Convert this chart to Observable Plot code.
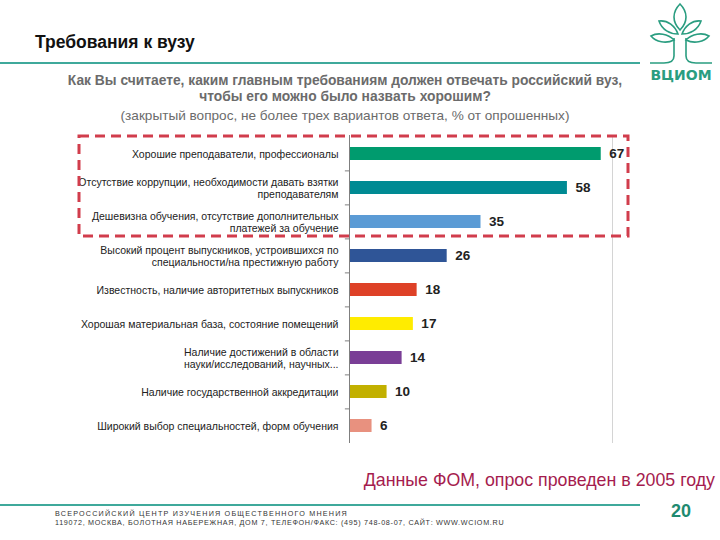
<!DOCTYPE html>
<html>
<head>
<meta charset="utf-8">
<script src="https://cdn.jsdelivr.net/npm/d3@7"></script>
<script src="https://cdn.jsdelivr.net/npm/@observablehq/plot@0.6"></script>
<style>
  html, body { margin: 0; padding: 0; background: #fff; }
  #page { position: relative; width: 720px; height: 540px; overflow: hidden; font-family: "Liberation Sans", Arial, sans-serif; }
  .abs { position: absolute; white-space: nowrap; }
  #title { left: 35px; top: 32px; font-size: 17.5px; font-weight: bold; color: #111; }
  #q { left: 40px; width: 610px; top: 73px; text-align: center; font-size: 13.8px; font-weight: bold; color: #6b6b6b; line-height: 16px; white-space: normal; }
  #sub { left: 40px; width: 610px; top: 108px; text-align: center; font-size: 13.6px; color: #6b6b6b; }
  #chart { position: absolute; left: 0; top: 130px; }
  #caption { right: 5px; top: 470px; font-size: 17.8px; color: #a51c4e; }
  #pnum { left: 671px; top: 501px; font-size: 18px; font-weight: bold; color: #1f8a70; }
  #foot { left: 55px; top: 510px; font-size: 7.2px; color: #333; line-height: 8.5px; letter-spacing: 1.2px; }
  #overlay { position: absolute; left: 0; top: 0; pointer-events: none; }
</style>
</head>
<body>
<div id="page">
  <div id="title" class="abs">Требования к вузу</div>
  <div id="q" class="abs">Как Вы считаете, каким главным требованиям должен отвечать российский вуз,<br>чтобы его можно было назвать хорошим?</div>
  <div id="sub" class="abs">(закрытый вопрос, не более трех вариантов ответа, % от опрошенных)</div>
  <div id="chart"></div>
  <div id="caption" class="abs">Данные ФОМ, опрос проведен в 2005 году</div>
  <div id="pnum" class="abs">20</div>
  <div id="foot" class="abs">ВСЕРОССИЙСКИЙ ЦЕНТР ИЗУЧЕНИЯ ОБЩЕСТВЕННОГО МНЕНИЯ<br><span style="letter-spacing:0.7px">119072, МОСКВА, БОЛОТНАЯ НАБЕРЕЖНАЯ, ДОМ 7, ТЕЛЕФОН/ФАКС: (495) 748-08-07, САЙТ: WWW.WCIOM.RU</span></div>
  <svg id="overlay" width="720" height="540">
    <line x1="0" y1="63" x2="640" y2="63" stroke="#3fa99b" stroke-width="2"/>
    <line x1="0" y1="505" x2="640" y2="505" stroke="#3fa99b" stroke-width="2"/>
    <rect x="79" y="136" width="549" height="100" fill="none" stroke="#d13d4c" stroke-width="3" stroke-dasharray="10 6"/>
    <g fill="none" stroke="#2a9d80" stroke-width="1.6">
      <path d="M680,30 C672,22 672,12 680,4 C688,12 688,22 680,30 Z"/>
      <path d="M678,34 C670,34 662,30 659,21 C668,20 675,26 678,34 Z"/>
      <path d="M682,34 C690,34 698,30 701,21 C692,20 685,26 682,34 Z"/>
      <path d="M674,40 C666,44 656,42 651,36 C658,32 668,34 674,40 Z"/>
      <path d="M686,40 C694,44 704,42 709,36 C702,32 692,34 686,40 Z"/>
      <path d="M674,38 L674,56 C674,61 670,63 664,63 L650,63"/>
      <path d="M686,38 L686,56 C686,61 690,63 696,63 L712,63"/>
    </g>
    <text x="681" y="80" text-anchor="middle" font-family="DejaVu Sans, sans-serif" font-size="14" font-weight="bold" fill="#2a9d80">ВЦИОМ</text>
  </svg>
</div>
<script>
const categories = [
  "Хорошие преподаватели, профессионалы",
  "Отсутствие коррупции, необходимости давать взятки\nпреподавателям",
  "Дешевизна обучения, отсутствие дополнительных\nплатежей за обучение",
  "Высокий процент выпускников, устроившихся по\nспециальности/на престижную работу",
  "Известность, наличие авторитетных выпускников",
  "Хорошая материальная база, состояние помещений",
  "Наличие достижений в области\nнауки/исследований, научных...",
  "Наличие государственной аккредитации",
  "Широкий выбор специальностей, форм обучения"
];
const values = [67, 58, 35, 26, 18, 17, 14, 10, 6];
const barColors = ["#009b6e", "#008a93", "#5b9bd5", "#2f5597", "#de4127", "#ffec00", "#7a3e96", "#c2b000", "#e8917f"];

const data = categories.map((c, i) => ({c, v: values[i], col: barColors[i]}));

const H = 318, mT = 5, mB = 5;
const step = (H - mT - mB) / categories.length;

const chart = Plot.plot({
  width: 720,
  height: H,
  marginLeft: 349,
  marginRight: 108,
  marginTop: mT,
  marginBottom: mB,
  style: {fontFamily: "Liberation Sans, Arial, sans-serif", fontSize: "10.5px", color: "#222", background: "transparent"},
  x: {domain: [0, 70], axis: null},
  y: {domain: categories, paddingInner: 0.62, paddingOuter: 0.31, axis: null},
  marks: [
    Plot.ruleX([70], {stroke: "#d4d4d4", strokeWidth: 1}),
    Plot.barX(data, {x: "v", y: "c", fill: "col"}),
    Plot.ruleX([0], {stroke: "#7f7f7f", strokeWidth: 1}),
    Plot.ruleY(categories.slice(1), {y: d => d, dy: -step / 2, x1: -1.1, x2: 0, stroke: "#7f7f7f"}),
    Plot.axisY({tickSize: 0, tickPadding: 11, lineHeight: 1.2, fill: "#222", fontSize: 10.5, label: null}),
    Plot.text(data, {x: "v", y: "c", text: d => String(d.v), dx: 8, textAnchor: "start", fontWeight: "bold", fontSize: 13.5, fill: "#222"})
  ]
});
document.getElementById("chart").appendChild(chart);
</script>
</body>
</html>
